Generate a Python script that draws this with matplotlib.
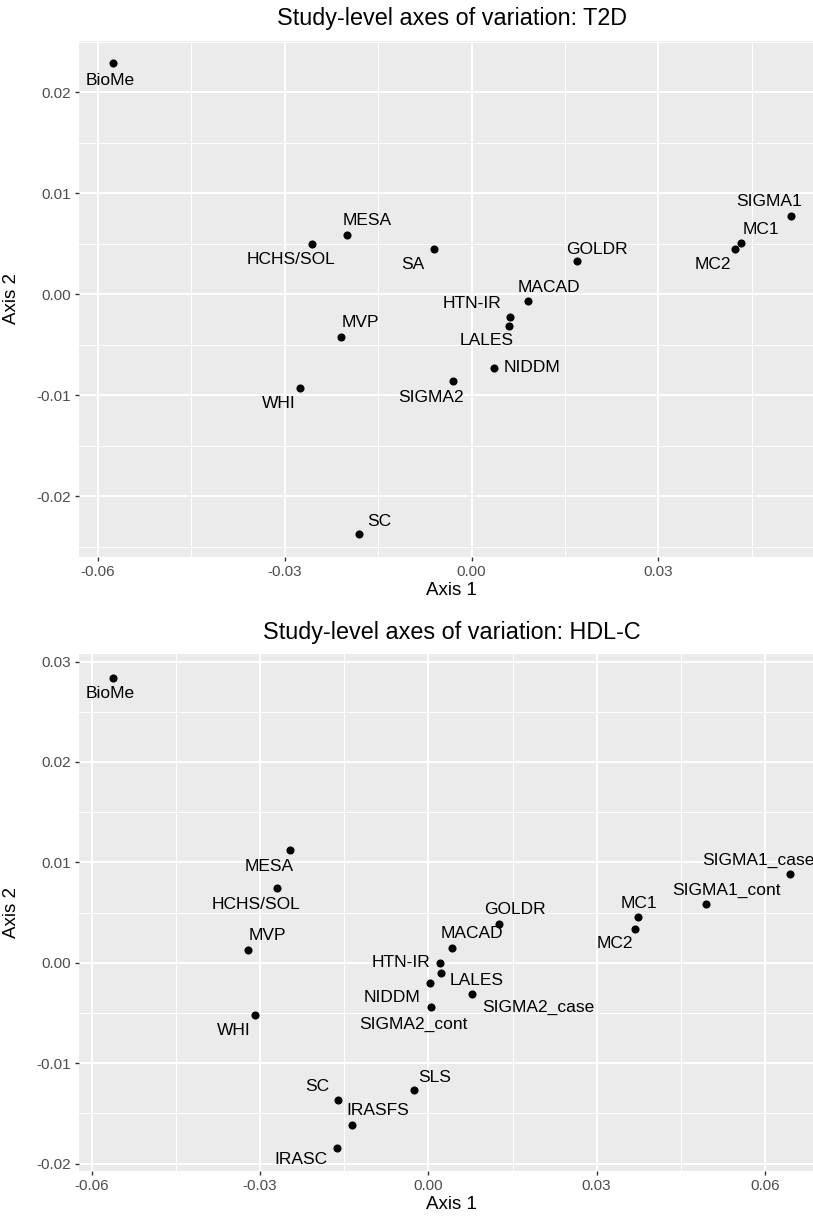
import matplotlib
matplotlib.use("Agg")
import matplotlib.pyplot as plt
import numpy as np

plt.rcParams['font.family'] = ['Liberation Sans', 'DejaVu Sans']

# T2D panel
t2d_names = ['BioMe', 'HCHS/SOL', 'MESA', 'SA', 'GOLDR', 'MC2', 'MC1', 'SIGMA1',
             'MACAD', 'HTN-IR', 'LALES', 'NIDDM', 'SIGMA2', 'MVP', 'WHI', 'SC']
t2d_x = [-0.0575, -0.0256, -0.0200, -0.0060, 0.0169, 0.0423, 0.0433, 0.0512,
         0.0090, 0.0062, 0.0060, 0.0036, -0.0029, -0.0210, -0.0275, -0.0180]
t2d_y = [0.0229, 0.0050, 0.0059, 0.0045, 0.0033, 0.0045, 0.0051, 0.0078,
         -0.0007, -0.0022, -0.0031, -0.0073, -0.0086, -0.0042, -0.0093, -0.0238]

# HDL-C panel
hdl_names = ['BioMe', 'MESA', 'HCHS/SOL', 'SIGMA1_case', 'SIGMA1_cont', 'MC1', 'MC2',
             'GOLDR', 'MACAD', 'MVP', 'HTN-IR', 'LALES', 'NIDDM', 'SIGMA2_case',
             'SIGMA2_cont', 'WHI', 'SLS', 'SC', 'IRASFS', 'IRASC']
hdl_x = [-0.0562, -0.0247, -0.0270, 0.0645, 0.0495, 0.0373, 0.0369,
         0.0126, 0.0042, -0.0322, 0.0021, 0.0023, 0.0003, 0.0078,
         0.0005, -0.0310, -0.0026, -0.0161, -0.0136, -0.0163]
hdl_y = [0.0284, 0.0112, 0.0074, 0.0088, 0.0059, 0.0046, 0.0034,
         0.0039, 0.0015, 0.0013, 0.0000, -0.0010, -0.0020, -0.0031,
         -0.0044, -0.0052, -0.0127, -0.0137, -0.0161, -0.0184]

# label offsets (pixels, right / up) like ggrepel placed them
t2d_off = {'BioMe': (-3, -17), 'HCHS/SOL': (-21, -16), 'MESA': (20, 14), 'SA': (-21, -16),
           'GOLDR': (20, 12), 'MC2': (-22, -16), 'MC1': (20, 13), 'SIGMA1': (-22, 14),
           'MACAD': (21, 14), 'HTN-IR': (-38, 13), 'LALES': (-22, -15), 'NIDDM': (38, 0),
           'SIGMA2': (-22, -16), 'MVP': (20, 14), 'WHI': (-21, -15), 'SC': (20, 13)}
hdl_off = {'BioMe': (-3, -16), 'MESA': (-21, -16), 'HCHS/SOL': (-21, -16),
           'SIGMA1_case': (-32, 14), 'SIGMA1_cont': (20, 13), 'MC1': (1, 13),
           'MC2': (-21, -15), 'GOLDR': (16, 14), 'MACAD': (20, 14), 'MVP': (20, 14),
           'HTN-IR': (-39, 0), 'LALES': (35, -8), 'NIDDM': (-38, -15),
           'SIGMA2_case': (66, -13), 'SIGMA2_cont': (-18, -17), 'WHI': (-21, -15),
           'SLS': (21, 13), 'SC': (-21, 14), 'IRASFS': (26, 14), 'IRASC': (-36, -12)}

W, H = 813, 1216
fig = plt.figure(figsize=(W / 100, H / 100), dpi=100)


def panel(top, bottom, xlim, ylim, xticks, yticks, names, xs, ys, offs, title):
    ax = fig.add_axes([79 / W, (H - bottom) / H, (W - 79) / W, (bottom - top) / H])
    ax.set_facecolor('#EBEBEB')
    for s in ax.spines.values():
        s.set_visible(False)
    ax.set_xticks(xticks)
    ax.set_xticklabels(['%.2f' % t for t in xticks])
    ax.set_yticks(yticks)
    ax.set_yticklabels(['%.2f' % t for t in yticks])
    xt = list(xticks) + [xticks[-1] + 0.03]
    yt = [yticks[0] - 0.01] + list(yticks) + [yticks[-1] + 0.01]
    ax.set_xticks([t - 0.015 for t in xt], minor=True)
    ax.set_yticks([t - 0.005 for t in yt[1:]] + [yt[-1] - 0.005], minor=True)
    ax.set_xlim(*xlim)
    ax.set_ylim(*ylim)
    ax.grid(which='major', color='white', linewidth=1.4)
    ax.grid(which='minor', color='white', linewidth=0.7)
    ax.set_axisbelow(True)
    ax.tick_params(which='major', length=3, width=1, color='#333333',
                   labelcolor='#4D4D4D', labelsize=11, pad=3)
    ax.tick_params(which='minor', length=0)
    ax.scatter(xs, ys, s=34, color='black', zorder=3, linewidths=0)
    for n, x, y in zip(names, xs, ys):
        dx, dy = offs[n]
        ax.annotate(n, (x, y), xytext=(dx, dy), textcoords='offset pixels',
                    ha='center', va='center', fontsize=12.5, color='black')
    # centred on the full (uncropped) panel
    cx = 451.5 / W
    fig.text(cx, (H - top + 22) / H, title, ha='center', va='center', fontsize=16.8)
    fig.text(cx, (H - bottom - 34) / H, 'Axis 1', ha='center', va='center', fontsize=13.5)
    fig.text(12 / W, (H - (top + bottom) / 2) / H, 'Axis 2', ha='center', va='center',
             rotation=90, fontsize=13.5)
    return ax


panel(40.7, 556.7, (-0.0630, 0.0548), (-0.0260, 0.02513),
      [-0.06, -0.03, 0.0, 0.03], [-0.02, -0.01, 0.0, 0.01, 0.02],
      t2d_names, t2d_x, t2d_y, t2d_off, 'Study-level axes of variation: T2D')
panel(654, 1170.7, (-0.0623, 0.06857), (-0.0207, 0.03075),
      [-0.06, -0.03, 0.0, 0.03, 0.06], [-0.02, -0.01, 0.0, 0.01, 0.02, 0.03],
      hdl_names, hdl_x, hdl_y, hdl_off, 'Study-level axes of variation: HDL-C')

fig.savefig('out.png', dpi=100)
